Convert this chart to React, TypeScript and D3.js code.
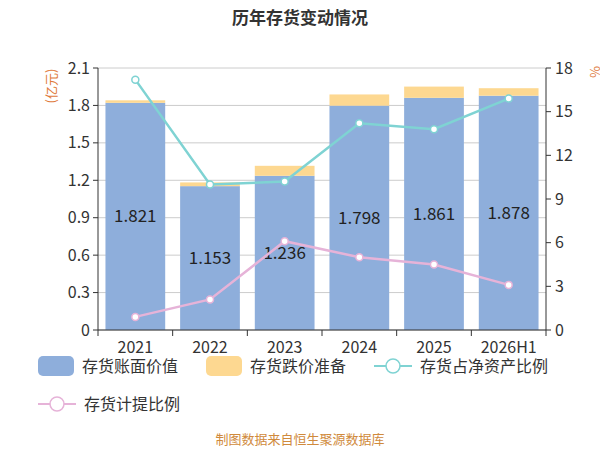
import React from "react";
import * as d3 from "d3";

const categories = ["2021", "2022", "2023", "2024", "2025", "2026H1"];
const bookValue = [1.821, 1.153, 1.236, 1.798, 1.861, 1.878];
const reserve = [0.02, 0.03, 0.08, 0.09, 0.09, 0.06];
const netAssetRatio = [17.2, 10.0, 10.2, 14.2, 13.8, 15.9];
const provisionRatio = [0.9, 2.1, 6.1, 5.0, 4.5, 3.1];
const leftTicks = [0, 0.3, 0.6, 0.9, 1.2, 1.5, 1.8, 2.1];
const rightTicks = [0, 3, 6, 9, 12, 15, 18];

const W = 600, H = 450;
const m = { l: 98, r: 546, t: 68, b: 330 };
const font = "'Microsoft YaHei','Noto Sans CJK SC','Noto Sans',sans-serif";

export default function App() {
  const x = d3.scaleBand().domain(categories).range([m.l, m.r]).paddingInner(0.2).paddingOuter(0.1);
  const y = d3.scaleLinear().domain([0, 2.1]).range([m.b, m.t]);
  const y2 = d3.scaleLinear().domain([0, 18]).range([m.b, m.t]);
  const step = (m.r - m.l) / categories.length;
  const cx = (c: string) => (x(c) as number) + x.bandwidth() / 2;
  const line = d3.line<number>().x((_, i) => cx(categories[i])).y(d => y2(d));

  return (
    <svg width={W} height={H} style={{ position: "absolute", left: 0, top: 0, fontFamily: font }}>
      <text x={300} y={24} textAnchor="middle" fontSize={17} fontWeight="bold" fill="#333">历年存货变动情况</text>
      {leftTicks.map(t => (
        <g key={t}>
          <line x1={m.l} x2={m.r} y1={y(t)} y2={y(t)} stroke="#ccc" />
          <text x={m.l - 8} y={y(t)} dy="0.35em" textAnchor="end" fontSize={16} fill="#333">{t === 0 ? "0" : t.toFixed(1)}</text>
        </g>
      ))}
      {rightTicks.map(t => (
        <g key={t}>
          <line x1={m.r} x2={m.r + 5} y1={y2(t)} y2={y2(t)} stroke="#333" />
          <text x={m.r + 9} y={y2(t)} dy="0.35em" fontSize={16} fill="#333">{t}</text>
        </g>
      ))}
      <line x1={m.l} x2={m.l} y1={m.t} y2={m.b} stroke="#333" />
      <line x1={m.r} x2={m.r} y1={m.t} y2={m.b} stroke="#333" />
      {leftTicks.map(t => <line key={t} x1={m.l - 5} x2={m.l} y1={y(t)} y2={y(t)} stroke="#333" />)}
      <text transform={`translate(56,${m.t + 18}) rotate(-90)`} textAnchor="middle" fontSize={13} fill="#e07a3c">(亿元)</text>
      <text transform={`translate(600,${m.t + 4}) rotate(-90)`} textAnchor="middle" fontSize={13} fill="#e07a3c">%</text>
      {categories.map((c, i) => (
        <g key={c}>
          <rect x={x(c)} width={x.bandwidth()} y={y(bookValue[i])} height={m.b - y(bookValue[i])} fill="#8eaedb" />
          <rect x={x(c)} width={x.bandwidth()} y={y(bookValue[i] + reserve[i])} height={y(bookValue[i]) - y(bookValue[i] + reserve[i])} fill="#fdd891" />
          <text x={cx(c)} y={y(bookValue[i] / 2)} dy="0.35em" textAnchor="middle" fontSize={17} fill="#222">{bookValue[i].toFixed(3)}</text>
        </g>
      ))}
      <line x1={m.l} x2={m.r} y1={m.b} y2={m.b} stroke="#333" />
      {d3.range(categories.length + 1).map(i => (
        <line key={i} x1={m.l + i * step} x2={m.l + i * step} y1={m.b} y2={m.b + 6} stroke="#333" />
      ))}
      {categories.map(c => (
        <text key={c} x={cx(c)} y={m.b + 23} textAnchor="middle" fontSize={16} fill="#333">{c}</text>
      ))}
      <path d={line(netAssetRatio) ?? ""} fill="none" stroke="#7fd3d3" strokeWidth={2.5} />
      {netAssetRatio.map((v, i) => <circle key={i} cx={cx(categories[i])} cy={y2(v)} r={3.5} fill="#fff" stroke="#7fd3d3" strokeWidth={1.5} />)}
      <path d={line(provisionRatio) ?? ""} fill="none" stroke="#e6b3d8" strokeWidth={2.5} />
      {provisionRatio.map((v, i) => <circle key={i} cx={cx(categories[i])} cy={y2(v)} r={3.5} fill="#fff" stroke="#e6b3d8" strokeWidth={1.5} />)}
      <g fontSize={16} fill="#333">
        <rect x={38} y={356} width={36} height={20} rx={5} fill="#8eaedb" />
        <text x={82} y={366} dy="0.35em">存货账面价值</text>
        <rect x={206} y={356} width={36} height={20} rx={5} fill="#fdd891" />
        <text x={250} y={366} dy="0.35em">存货跌价准备</text>
        <line x1={374} x2={412} y1={366} y2={366} stroke="#7fd3d3" strokeWidth={2} />
        <circle cx={393} cy={366} r={7} fill="#fff" stroke="#7fd3d3" strokeWidth={1.5} />
        <text x={420} y={366} dy="0.35em">存货占净资产比例</text>
        <line x1={38} x2={76} y1={404} y2={404} stroke="#e6b3d8" strokeWidth={2} />
        <circle cx={57} cy={404} r={7} fill="#fff" stroke="#e6b3d8" strokeWidth={1.5} />
        <text x={84} y={404} dy="0.35em">存货计提比例</text>
      </g>
      <text x={300} y={444} textAnchor="middle" fontSize={13} fill="#d08a3c">制图数据来自恒生聚源数据库</text>
    </svg>
  );
}
